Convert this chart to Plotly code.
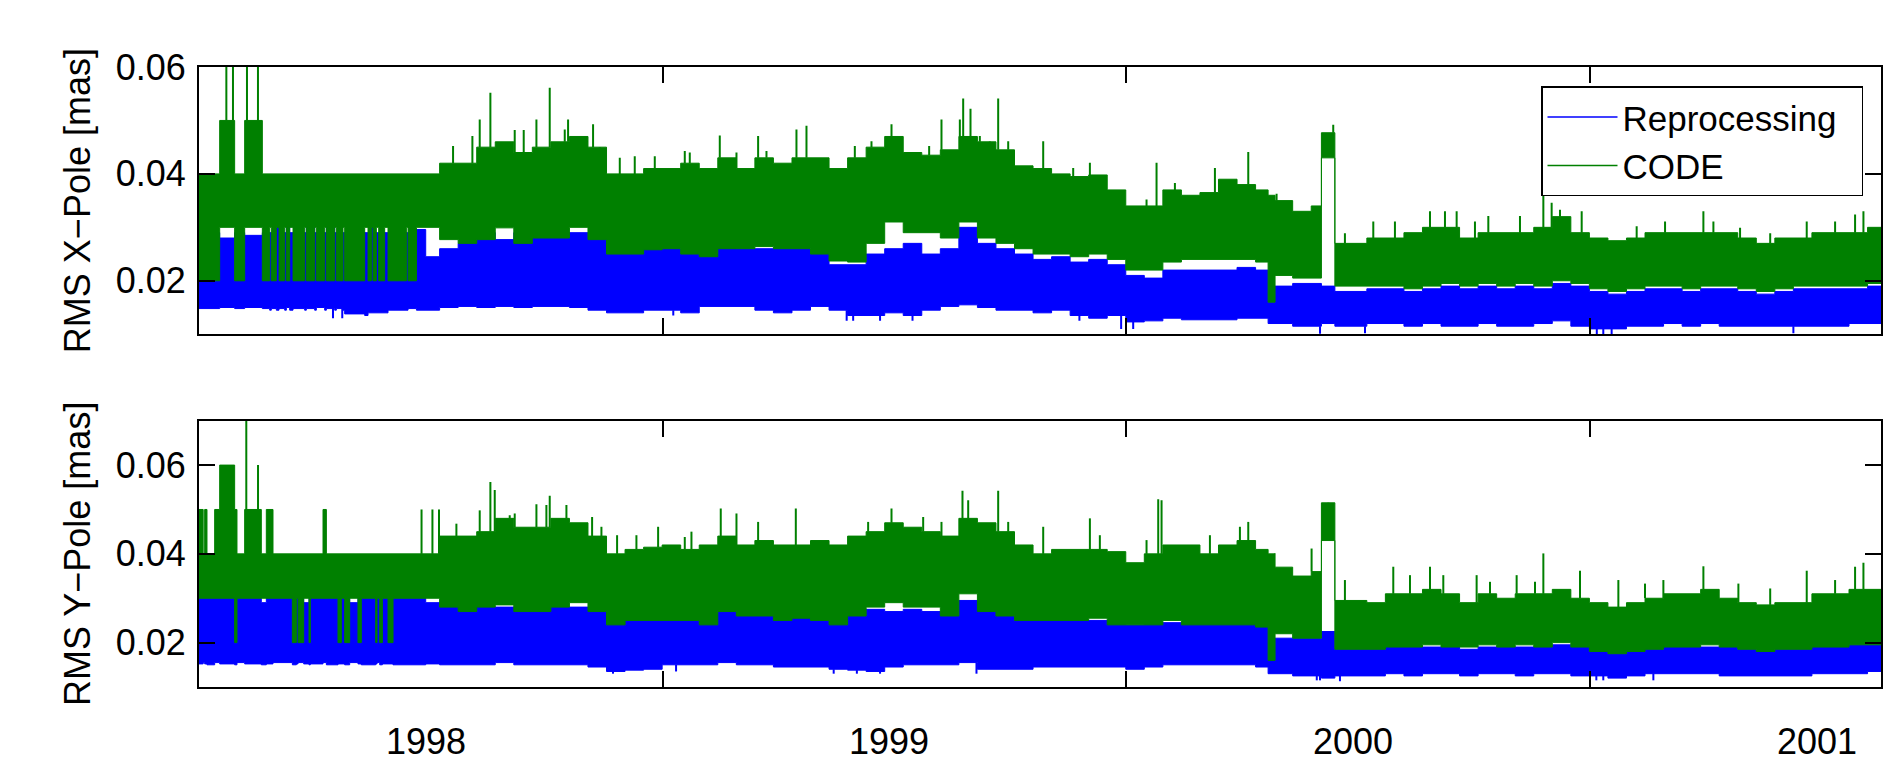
import numpy as np
import plotly.graph_objects as go

# ---------------- data (time in decimal years, RMS in mas) ----------------
# breakpoints of the dense hourly series, read as envelope (min / max) steps
T_MAIN = [1998.03, 1998.07, 1998.11, 1998.15, 1998.19, 1998.23, 1998.27, 1998.31, 1998.35, 1998.39,
          1998.43, 1998.47, 1998.51, 1998.55, 1998.59, 1998.63, 1998.67, 1998.71, 1998.75, 1998.79,
          1998.83, 1998.87, 1998.91, 1998.95, 1998.99, 1999.03, 1999.07, 1999.11, 1999.15, 1999.19,
          1999.23, 1999.27, 1999.31, 1999.35, 1999.39, 1999.43, 1999.47, 1999.51, 1999.55, 1999.59,
          1999.63, 1999.67, 1999.71, 1999.75, 1999.79, 1999.817, 1999.832, 1999.87, 1999.91, 1999.932,
          1999.961, 2000.03, 2000.07, 2000.11, 2000.15, 2000.19, 2000.23, 2000.27, 2000.31, 2000.35,
          2000.39, 2000.43, 2000.47, 2000.51, 2000.55, 2000.59, 2000.63, 2000.67, 2000.71, 2000.75,
          2000.79, 2000.83, 2000.87, 2000.91, 2000.95, 2000.99, 2001.03, 2001.07, 2001.11, 2001.14]

TOP_T_EARLY = [1997.511, 1997.5556, 1997.5879, 1997.6095, 1997.6476, 1997.6634, 1997.667, 1997.6778,
               1997.6836, 1997.6958, 1997.6994, 1997.7066, 1997.7138, 1997.7389, 1997.7425, 1997.7605,
               1997.7641, 1997.7821, 1997.7857, 1997.8037, 1997.8073, 1997.8216, 1997.8252, 1997.8684,
               1997.8756, 1997.8828, 1997.8864, 1997.8935, 1997.8986, 1997.9115, 1997.9187, 1997.9583,
               1997.9619, 1997.98, 1998.00]

BOT_T_EARLY = [1997.511, 1997.52, 1997.5232, 1997.5282, 1997.5448, 1997.5556, 1997.5879, 1997.5929,
               1997.6095, 1997.6454, 1997.6562, 1997.6706, 1997.7124, 1997.721, 1997.7246, 1997.7368,
               1997.7483, 1997.7511, 1997.7785, 1997.7857, 1997.8108, 1997.818, 1997.8252, 1997.836,
               1997.8539, 1997.8611, 1997.8921, 1997.895, 1997.9008, 1997.9065, 1997.9187, 1997.9295,
               1998.00]

# ---- X-Pole panel ----
TOP_CODE_HI = [0.04, 0.05, 0.04, 0.05, 0.04, 0.04, 0.04, 0.04, 0.04, 0.04, 0.04, 0.04, 0.04, 0.04, 0.04,
               0.04, 0.04, 0.04, 0.04, 0.04, 0.04, 0.04, 0.04, 0.04, 0.04, 0.04, 0.04, 0.04, 0.04, 0.04,
               0.04, 0.04, 0.04, 0.04, 0.04,
               0.042, 0.042, 0.045, 0.046, 0.044, 0.045, 0.046, 0.047, 0.045, 0.040,
               0.040, 0.041, 0.041, 0.042, 0.041, 0.043, 0.041, 0.043, 0.042, 0.043,
               0.043, 0.041, 0.043, 0.045, 0.047, 0.044, 0.0435, 0.0445, 0.047, 0.046,
               0.0445, 0.0415, 0.041, 0.040, 0.0395, 0.0398, 0.037, 0.034, 0.034, 0.037,
               0.036, 0.0365, 0.039, 0.038, 0.037, 0.036, 0.035, 0.033, 0.034, 0.0477,
               0.027, 0.028, 0.028, 0.029, 0.030, 0.030, 0.028, 0.029, 0.029, 0.029,
               0.030, 0.032, 0.029, 0.028, 0.0275, 0.028, 0.029, 0.029, 0.029, 0.029,
               0.029, 0.028, 0.027, 0.028, 0.028, 0.029, 0.029, 0.029, 0.030, 0.030]
TOP_CODE_LO = [0.02, 0.03, 0.02, 0.03, 0.02, 0.03, 0.02, 0.03, 0.02, 0.03, 0.02, 0.03, 0.02, 0.03, 0.02,
               0.03, 0.02, 0.03, 0.02, 0.03, 0.02, 0.03, 0.02, 0.03, 0.02, 0.03, 0.02, 0.03, 0.02, 0.03,
               0.02, 0.03, 0.02, 0.03, 0.03,
               0.0277, 0.027, 0.0277, 0.0299, 0.027, 0.028, 0.028, 0.030, 0.0277, 0.025,
               0.025, 0.0258, 0.026, 0.025, 0.0245, 0.026, 0.026, 0.0264, 0.026, 0.026,
               0.025, 0.0237, 0.0235, 0.027, 0.031, 0.029, 0.029, 0.028, 0.031, 0.028,
               0.027, 0.026, 0.025, 0.025, 0.0245, 0.025, 0.024, 0.022, 0.022, 0.0235,
               0.024, 0.024, 0.024, 0.024, 0.0235, 0.016, 0.021, 0.0205, 0.0205, 0.043,
               0.019, 0.019, 0.019, 0.0185, 0.019, 0.0195, 0.019, 0.0195, 0.019, 0.0195,
               0.019, 0.020, 0.0195, 0.0185, 0.018, 0.0185, 0.019, 0.019, 0.0185, 0.019,
               0.019, 0.0185, 0.018, 0.0185, 0.019, 0.019, 0.019, 0.019, 0.0195, 0.0195]
TOP_REP_HI = [0.029, 0.028, 0.029, 0.0285, 0.029, 0.029, 0.029, 0.03, 0.029, 0.029, 0.03, 0.029, 0.029,
              0.029, 0.03, 0.029, 0.029, 0.029, 0.03, 0.029, 0.029, 0.029, 0.029, 0.029, 0.029, 0.03,
              0.029, 0.029, 0.029, 0.029, 0.029, 0.029, 0.029, 0.0296, 0.0245,
              0.026, 0.027, 0.029, 0.0277, 0.029, 0.029, 0.029, 0.029, 0.028, 0.026,
              0.026, 0.026, 0.026, 0.026, 0.025, 0.027, 0.026, 0.026, 0.026, 0.026,
              0.025, 0.023, 0.023, 0.025, 0.026, 0.027, 0.025, 0.026, 0.030, 0.027,
              0.026, 0.025, 0.024, 0.0245, 0.0235, 0.024, 0.023, 0.021, 0.0205, 0.022,
              0.022, 0.022, 0.022, 0.0225, 0.022, 0.016, 0.019, 0.0195, 0.0195, 0.019,
              0.018, 0.0185, 0.0185, 0.018, 0.0185, 0.019, 0.0185, 0.019, 0.0185, 0.019,
              0.0185, 0.0195, 0.019, 0.018, 0.0175, 0.018, 0.0185, 0.0185, 0.018, 0.0185,
              0.0185, 0.018, 0.0175, 0.018, 0.0185, 0.0185, 0.0185, 0.0185, 0.019, 0.019]
TOP_REP_LO = [0.0148, 0.015, 0.0148, 0.015, 0.0148, 0.0145, 0.0148, 0.0145, 0.0148, 0.0145, 0.015,
              0.0145, 0.0148, 0.0145, 0.0148, 0.0145, 0.015, 0.0145, 0.0148, 0.0145, 0.0148, 0.0145,
              0.0138, 0.0135, 0.014, 0.014, 0.014, 0.014, 0.014, 0.014, 0.0145, 0.0145, 0.0148,
              0.0145, 0.0145,
              0.015, 0.0152, 0.015, 0.0152, 0.015, 0.0152, 0.0152, 0.015, 0.0145, 0.014,
              0.014, 0.0145, 0.0145, 0.014, 0.0152, 0.0152, 0.0152, 0.0145, 0.014, 0.0145,
              0.0152, 0.0145, 0.0135, 0.0135, 0.014, 0.0135, 0.0145, 0.0152, 0.0155, 0.015,
              0.0145, 0.0145, 0.014, 0.0145, 0.0135, 0.013, 0.0135, 0.0123, 0.0125, 0.013,
              0.0127, 0.0127, 0.0127, 0.013, 0.013, 0.012, 0.012, 0.0115, 0.0115, 0.012,
              0.0115, 0.012, 0.012, 0.0115, 0.012, 0.0115, 0.0115, 0.012, 0.0115, 0.0115,
              0.012, 0.0125, 0.0115, 0.011, 0.011, 0.0115, 0.0115, 0.012, 0.0115, 0.012,
              0.0115, 0.0115, 0.0115, 0.0115, 0.0115, 0.0115, 0.0115, 0.012, 0.012, 0.012]
TOP_CODE_SPIKE_T = [1997.570, 1997.5843, 1997.6145, 1997.6382, 1998.059, 1998.1007, 1998.1165, 1998.1395,
                    1998.192, 1998.2114, 1998.2388, 1998.2675, 1998.2999, 1998.3071, 1998.361, 1998.3754,
                    1998.4186, 1998.4509, 1998.4941, 1998.5588, 1998.5696, 1998.6343, 1998.6703, 1998.717,
                    1998.735, 1998.7997, 1998.8213, 1998.9256, 1998.9615, 1999.0047, 1999.0859, 1999.1125,
                    1999.1521, 1999.1593, 1999.1751, 1999.1952, 1999.2168, 1999.2348, 1999.2564, 1999.3319,
                    1999.3966, 1999.4326, 1999.5548, 1999.5764, 1999.616, 1999.7023, 1999.7742, 1999.8353,
                    1999.9575, 1999.9827, 2000.0439, 2000.0906, 2000.1662, 2000.1985, 2000.2237, 2000.2632,
                    2000.292, 2000.3603, 2000.4107, 2000.4286, 2000.4466, 2000.4934, 2000.612, 2000.6732,
                    2000.7559, 2000.7775, 2000.835, 2000.9, 2000.9788, 2001.04, 2001.0831, 2001.1011]
TOP_CODE_SPIKE_V = [0.06, 0.06, 0.06, 0.06, 0.0452, 0.0471, 0.0502, 0.0552, 0.0482, 0.0482, 0.0502, 0.0561,
                    0.0483, 0.0502, 0.0493, 0.0433, 0.043, 0.0433, 0.0433, 0.0443, 0.044, 0.0472, 0.044,
                    0.0471, 0.0443, 0.0483, 0.049, 0.0452, 0.0461, 0.0493, 0.0452, 0.0502, 0.0502, 0.0541,
                    0.0522, 0.0471, 0.0461, 0.0541, 0.0461, 0.0461, 0.0411, 0.0421, 0.0352, 0.0421, 0.0383,
                    0.0411, 0.0441, 0.0363, 0.0492, 0.0289, 0.0311, 0.0311, 0.033, 0.033, 0.033, 0.0311,
                    0.0321, 0.0321, 0.038, 0.0346, 0.0333, 0.033, 0.0302, 0.0311, 0.033, 0.0311, 0.0299,
                    0.0289, 0.0311, 0.0311, 0.0324, 0.033]
TOP_REP_DIP_T = [1997.80, 1997.82, 1998.534, 1998.908, 1998.922, 1998.98, 1999.05, 1999.41, 1999.50,
                 1999.526, 1999.929, 2000.026, 2000.526, 2000.54, 2000.558, 2000.95]
TOP_REP_DIP_V = [0.013, 0.013, 0.0135, 0.0125, 0.0125, 0.0125, 0.0125, 0.0125, 0.011, 0.011, 0.0101,
                 0.0102, 0.0099, 0.0099, 0.0099, 0.0102]

# ---- Y-Pole panel ----
BOT_CODE_HI = [0.05, 0.04, 0.05, 0.04, 0.05, 0.06, 0.05, 0.04, 0.05, 0.04, 0.05, 0.04, 0.04, 0.04, 0.04,
               0.04, 0.04, 0.04, 0.05, 0.04, 0.04, 0.04, 0.04, 0.04, 0.04, 0.04, 0.04, 0.04, 0.04, 0.04,
               0.04, 0.04, 0.04,
               0.044, 0.044, 0.045, 0.048, 0.046, 0.046, 0.048, 0.047, 0.044, 0.040,
               0.041, 0.0415, 0.042, 0.041, 0.042, 0.044, 0.042, 0.043, 0.042, 0.042,
               0.043, 0.042, 0.044, 0.045, 0.047, 0.046, 0.045, 0.044, 0.048, 0.047,
               0.045, 0.042, 0.040, 0.041, 0.041, 0.041, 0.0405, 0.038, 0.040, 0.042,
               0.042, 0.040, 0.042, 0.043, 0.041, 0.040, 0.037, 0.035, 0.036, 0.0515,
               0.0295, 0.029, 0.031, 0.031, 0.032, 0.031, 0.029, 0.031, 0.030, 0.031,
               0.031, 0.032, 0.030, 0.029, 0.028, 0.029, 0.030, 0.031, 0.031, 0.032,
               0.030, 0.029, 0.0285, 0.029, 0.029, 0.031, 0.031, 0.032, 0.032, 0.032]
BOT_CODE_LO = [0.03, 0.03, 0.03, 0.03, 0.03, 0.03, 0.02, 0.03, 0.03, 0.03, 0.03, 0.03, 0.02, 0.03, 0.02,
               0.03, 0.02, 0.03, 0.03, 0.03, 0.02, 0.03, 0.02, 0.03, 0.02, 0.03, 0.02, 0.03, 0.02, 0.03,
               0.02, 0.03, 0.03,
               0.028, 0.027, 0.028, 0.0285, 0.027, 0.027, 0.028, 0.029, 0.027, 0.024,
               0.025, 0.025, 0.025, 0.025, 0.024, 0.027, 0.026, 0.026, 0.025, 0.0255,
               0.025, 0.024, 0.026, 0.028, 0.029, 0.028, 0.028, 0.026, 0.031, 0.027,
               0.026, 0.025, 0.025, 0.025, 0.025, 0.0255, 0.024, 0.024, 0.024, 0.025,
               0.024, 0.024, 0.024, 0.024, 0.0235, 0.016, 0.022, 0.021, 0.021, 0.043,
               0.0185, 0.0185, 0.019, 0.019, 0.0195, 0.019, 0.019, 0.0195, 0.019, 0.0195,
               0.019, 0.020, 0.019, 0.018, 0.0175, 0.018, 0.0185, 0.019, 0.019, 0.0195,
               0.019, 0.0185, 0.018, 0.0185, 0.0185, 0.019, 0.019, 0.0195, 0.0195, 0.0195]
BOT_REP_HI = [0.03, 0.03, 0.03, 0.03, 0.03, 0.03, 0.03, 0.03, 0.03, 0.029, 0.03, 0.03, 0.03, 0.03, 0.03,
              0.029, 0.03, 0.03, 0.03, 0.03, 0.03, 0.03, 0.03, 0.029, 0.03, 0.03, 0.03, 0.03, 0.03, 0.03,
              0.03, 0.03, 0.029,
              0.029, 0.028, 0.028, 0.028, 0.028, 0.028, 0.028, 0.028, 0.028, 0.0265,
              0.0265, 0.0265, 0.0265, 0.0265, 0.0265, 0.028, 0.0265, 0.0265, 0.0265, 0.0265,
              0.0265, 0.0265, 0.027, 0.0275, 0.027, 0.0275, 0.027, 0.026, 0.0295, 0.0275,
              0.0265, 0.025, 0.025, 0.025, 0.025, 0.025, 0.025, 0.024, 0.0245, 0.0245,
              0.0245, 0.0245, 0.0245, 0.0245, 0.0245, 0.016, 0.021, 0.021, 0.021, 0.0225,
              0.0185, 0.0185, 0.019, 0.019, 0.019, 0.019, 0.0185, 0.019, 0.019, 0.019,
              0.019, 0.0195, 0.019, 0.018, 0.0175, 0.018, 0.0185, 0.019, 0.019, 0.019,
              0.019, 0.0185, 0.018, 0.0185, 0.0185, 0.019, 0.019, 0.0195, 0.0195, 0.0195]
BOT_REP_LO = [0.0152, 0.0155, 0.0152, 0.015, 0.0155, 0.0152, 0.015, 0.0155, 0.0152, 0.015, 0.0152,
              0.0155, 0.015, 0.0152, 0.0155, 0.0152, 0.015, 0.0152, 0.0155, 0.015, 0.0152, 0.0152,
              0.015, 0.0155, 0.0152, 0.015, 0.0152, 0.0155, 0.015, 0.0152, 0.0152, 0.015, 0.0152,
              0.015, 0.015, 0.015, 0.0155, 0.015, 0.015, 0.015, 0.015, 0.0145, 0.0135,
              0.0138, 0.014, 0.015, 0.015, 0.015, 0.0155, 0.015, 0.015, 0.0145, 0.0145,
              0.0145, 0.014, 0.0138, 0.0135, 0.0145, 0.015, 0.015, 0.015, 0.0155, 0.014,
              0.014, 0.014, 0.0145, 0.0145, 0.0145, 0.0145, 0.0145, 0.014, 0.0145, 0.015,
              0.015, 0.015, 0.015, 0.015, 0.0145, 0.013, 0.013, 0.0125, 0.0125, 0.012,
              0.0125, 0.0125, 0.013, 0.0125, 0.013, 0.013, 0.0125, 0.013, 0.013, 0.0125,
              0.013, 0.013, 0.0125, 0.0125, 0.012, 0.0125, 0.013, 0.013, 0.013, 0.013,
              0.0125, 0.0125, 0.0125, 0.0125, 0.0125, 0.013, 0.013, 0.013, 0.0135, 0.0135]
BOT_CODE_SPIKE_T = [1997.613, 1997.6383, 1997.991, 1998.0145, 1998.0287, 1998.0662, 1998.1165, 1998.1395,
                    1998.1489, 1998.1812, 1998.192, 1998.2388, 1998.2603, 1998.2675, 1998.3035, 1998.3589,
                    1998.379, 1998.4128, 1998.4545, 1998.5013, 1998.5588, 1998.5732, 1998.6364, 1998.6703,
                    1998.717, 1998.7983, 1998.9543, 1999.0047, 1999.073, 1999.1125, 1999.1578, 1999.1701,
                    1999.2348, 1999.2564, 1999.3319, 1999.4326, 1999.4541, 1999.5548, 1999.58, 1999.5872,
                    1999.6915, 1999.7562, 1999.7742, 1999.8317, 1999.9108, 1999.9468, 1999.9827, 2000.087,
                    2000.123, 2000.1662, 2000.1949, 2000.2668, 2000.2956, 2000.3531, 2000.3927, 2000.4107,
                    2000.4898, 2000.5725, 2000.63, 2000.6696, 2000.7559, 2000.8314, 2000.9, 2000.9788,
                    2001.04, 2001.0831, 2001.1011]
BOT_CODE_SPIKE_V = [0.07, 0.06, 0.05, 0.05, 0.05, 0.0468, 0.0498, 0.0562, 0.0544, 0.0487, 0.0491, 0.0512,
                    0.051, 0.0531, 0.051, 0.0483, 0.0461, 0.0442, 0.0442, 0.0461, 0.0438, 0.045, 0.0502,
                    0.0491, 0.0472, 0.0502, 0.0472, 0.0502, 0.0483, 0.0472, 0.0542, 0.0521, 0.0542, 0.0472,
                    0.0461, 0.048, 0.0442, 0.0431, 0.0523, 0.0521, 0.0442, 0.0461, 0.0472, 0.0401, 0.0412,
                    0.051, 0.0341, 0.0371, 0.0352, 0.0371, 0.0352, 0.0352, 0.0337, 0.0352, 0.0337, 0.0401,
                    0.0362, 0.0341, 0.0333, 0.0341, 0.0372, 0.0333, 0.0322, 0.0362, 0.0341, 0.0371, 0.038]
BOT_REP_DIP_T = [1998.404, 1998.54, 1998.88, 1998.93, 1998.98, 1999.188, 1999.922, 1999.929, 1999.972,
                 2000.525, 2000.54, 2000.648]
BOT_REP_DIP_V = [0.013, 0.0135, 0.013, 0.013, 0.013, 0.013, 0.0115, 0.0115, 0.0113, 0.0115, 0.0115, 0.0115]

X_RANGE = [1997.511, 2001.139]
X_TICKS = [1998.511, 1999.511, 2000.511]
YEAR_POS = [1998.0, 1999.0, 2000.0, 2001.0]
YEAR_LABELS = ["1998", "1999", "2000", "2001"]
Y_TICKS = [0.02, 0.04, 0.06]
Y_TICK_TEXT = ["0.02", "0.04", "0.06"]
TOP_Y_RANGE = [0.01, 0.06]
BOT_Y_RANGE = [0.01, 0.07]
SERIES_NAMES = ["Reprocessing", "CODE"]

BLUE = "#0000ff"
GREEN = "#008000"
FONT = "Liberation Sans, Arial, Helvetica, sans-serif"


def step_band(t, lo, hi):
    t = np.asarray(t, float)
    lo = np.asarray(lo, float)
    hi = np.asarray(hi, float)
    x_up = np.column_stack([t[:-1], t[1:]]).ravel()
    y_up = np.repeat(hi[:-1], 2)
    y_dn = np.repeat(lo[:-1], 2)
    return np.concatenate([x_up, x_up[::-1]]), np.concatenate([y_up, y_dn[::-1]])


def spike_segments(t, edge, st, sv):
    t = np.asarray(t, float)
    edge = np.asarray(edge, float)
    idx = np.clip(np.searchsorted(t, st, side="right") - 1, 0, len(t) - 1)
    xs, ys = [], []
    for a, b, v in zip(st, edge[idx], sv):
        xs += [a, a, None]
        ys += [b, v, None]
    return xs, ys


fig = go.Figure()

panels = [
    (TOP_T_EARLY + T_MAIN, TOP_REP_LO, TOP_REP_HI, TOP_CODE_LO, TOP_CODE_HI,
     TOP_CODE_SPIKE_T, TOP_CODE_SPIKE_V, TOP_REP_DIP_T, TOP_REP_DIP_V, "x", "y"),
    (BOT_T_EARLY + T_MAIN, BOT_REP_LO, BOT_REP_HI, BOT_CODE_LO, BOT_CODE_HI,
     BOT_CODE_SPIKE_T, BOT_CODE_SPIKE_V, BOT_REP_DIP_T, BOT_REP_DIP_V, "x2", "y2"),
]

for t, rlo, rhi, clo, chi, st, sv, dt, dv, xa, ya in panels:
    bx, by = step_band(t, rlo, rhi)
    fig.add_trace(go.Scatter(x=bx, y=by, mode="lines", fill="toself", fillcolor=BLUE,
                             line=dict(color=BLUE, width=1), xaxis=xa, yaxis=ya,
                             showlegend=False, hoverinfo="skip"))
    dx, dy = spike_segments(t, rlo, dt, dv)
    fig.add_trace(go.Scatter(x=dx, y=dy, mode="lines", line=dict(color=BLUE, width=2),
                             xaxis=xa, yaxis=ya, showlegend=False, hoverinfo="skip"))
    gx, gy = step_band(t, clo, chi)
    fig.add_trace(go.Scatter(x=gx, y=gy, mode="lines", fill="toself", fillcolor=GREEN,
                             line=dict(color=GREEN, width=1), xaxis=xa, yaxis=ya,
                             showlegend=False, hoverinfo="skip"))
    sx, sy = spike_segments(t, chi, st, sv)
    fig.add_trace(go.Scatter(x=sx, y=sy, mode="lines", line=dict(color=GREEN, width=2),
                             xaxis=xa, yaxis=ya, showlegend=False, hoverinfo="skip"))

# legend entries (trailing non-breaking spaces give the box its right padding)
for name, col in zip(SERIES_NAMES, [BLUE, GREEN]):
    fig.add_trace(go.Scatter(x=[None], y=[None], mode="lines", name=name + "\u00a0\u00a0",
                             line=dict(color=col, width=1.5), xaxis="x", yaxis="y"))

axis_common = dict(showline=True, linecolor="black", linewidth=2, mirror="ticks",
                   ticks="inside", ticklen=16, tickwidth=1.5, tickcolor="black",
                   showgrid=False, zeroline=False, automargin=False)

fig.update_layout(
    width=1887, height=764,
    margin=dict(l=199, r=6, t=67, b=77),
    paper_bgcolor="white", plot_bgcolor="white",
    font=dict(family=FONT, size=36, color="black"),
    xaxis=dict(domain=[0, 1], anchor="y", range=X_RANGE, tickvals=X_TICKS,
               showticklabels=False, **axis_common),
    xaxis2=dict(domain=[0, 1], anchor="y2", range=X_RANGE, tickvals=X_TICKS,
                showticklabels=False, matches="x", **axis_common),
    yaxis=dict(domain=[0.569, 1], anchor="x", range=TOP_Y_RANGE, tickvals=Y_TICKS,
               ticktext=Y_TICK_TEXT, ticklabelstandoff=4,
               title=dict(text="RMS X\u2212Pole [mas]", standoff=14, font=dict(size=36)),
               **axis_common),
    yaxis2=dict(domain=[0, 0.4295], anchor="x2", range=BOT_Y_RANGE, tickvals=Y_TICKS,
                ticktext=Y_TICK_TEXT, ticklabelstandoff=4,
                title=dict(text="RMS Y\u2212Pole [mas]", standoff=14, font=dict(size=36)),
                **axis_common),
    legend=dict(x=0.9893, xanchor="right", y=0.969, yanchor="top",
                bgcolor="white", bordercolor="black", borderwidth=1.5,
                font=dict(size=35), tracegroupgap=0, itemwidth=70),
    showlegend=True,
)

for pos, lab in zip(YEAR_POS, YEAR_LABELS):
    fig.add_annotation(x=pos, xref="x2", y=-0.124, yref="paper", text=lab,
                       showarrow=False, xanchor="center", yanchor="bottom",
                       font=dict(size=36, family=FONT, color="black"))

fig.write_html("out.html", config={"displayModeBar": False},
               post_script="document.body.style.margin='0px';document.body.style.overflow='hidden';")
